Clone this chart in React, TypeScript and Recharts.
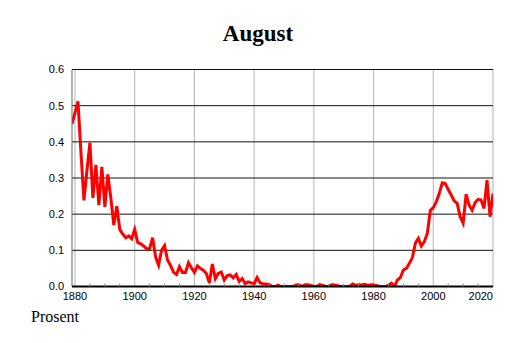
import { LineChart, Line, XAxis, YAxis, CartesianGrid } from "recharts";

// share per August, one value per year from 1879 to 2020
const firstYear = 1879;
const values1879to1899 = [
  0.45, 0.48, 0.512, 0.37, 0.238, 0.32, 0.398, 0.245, 0.336, 0.225, 0.331,
  0.22, 0.31, 0.245, 0.17, 0.222, 0.158, 0.145, 0.135, 0.14, 0.132,
];
const values1900to1929 = [
  0.158, 0.122, 0.118, 0.112, 0.104, 0.105, 0.135, 0.082, 0.059, 0.1,
  0.113, 0.073, 0.058, 0.04, 0.033, 0.055, 0.039, 0.039, 0.066, 0.052,
  0.039, 0.057, 0.05, 0.045, 0.036, 0.01, 0.062, 0.022, 0.036, 0.04,
];
const values1930to1959 = [
  0.018, 0.03, 0.032, 0.024, 0.033, 0.014, 0.022, 0.008, 0.013, 0.01,
  0.007, 0.025, 0.01, 0.007, 0.007, 0.006, 0, 0, 0.004, 0,
  0, 0, 0, 0, 0.004, 0.005, 0, 0.005, 0.005, 0.003,
];
const values1960to1989 = [
  0, 0, 0.005, 0.003, 0, 0, 0.005, 0.004, 0.002, 0,
  0, 0, 0, 0.007, 0.003, 0.005, 0.004, 0.006, 0.003, 0.005,
  0.004, 0.003, 0, 0, 0, 0.004, 0.009, 0, 0.018, 0.025,
];
const values1990to2020 = [
  0.046, 0.05, 0.064, 0.08, 0.12, 0.133, 0.112, 0.124, 0.147, 0.21,
  0.218, 0.234, 0.257, 0.287, 0.285, 0.268, 0.253, 0.237, 0.23, 0.193,
  0.175, 0.255, 0.225, 0.211, 0.232, 0.241, 0.239, 0.216, 0.294, 0.193,
  0.257,
];

const yearTicks = [
  1880, 1885, 1890, 1895, 1900, 1905, 1910, 1915, 1920, 1925, 1930, 1935,
  1940, 1945, 1950, 1955, 1960, 1965, 1970, 1975, 1980, 1985, 1990, 1995,
  2000, 2005, 2010, 2015, 2020,
];
const labelYears = [1880, 1900, 1920, 1940, 1960, 1980, 2000, 2020];
const shareTicks = [0, 0.1, 0.2, 0.3, 0.4, 0.5, 0.6];

const shares = [
  ...values1879to1899,
  ...values1900to1929,
  ...values1930to1959,
  ...values1960to1989,
  ...values1990to2020,
];
const data = shares.map((share, i) => ({ year: firstYear + i, share }));

const sans = "'Liberation Sans', Arial, sans-serif";
const serif = "'Liberation Serif', 'Times New Roman', serif";

function YearTick(props: any) {
  const { x, y, payload } = props;
  const year = payload.value;
  const axisY = y - 6;
  if (!labelYears.includes(year)) {
    return <line x1={x} x2={x} y1={axisY} y2={axisY - 3} stroke="#888" />;
  }
  return (
    <text
      x={x}
      y={y}
      dy="0.71em"
      textAnchor={year === 2020 ? "end" : "middle"}
      fontSize={11}
      fontFamily={sans}
      fill="#000"
    >
      {year}
    </text>
  );
}

export default function App() {
  return (
    <div
      style={{
        position: "absolute",
        left: 0,
        top: 0,
        width: 514,
        height: 343,
        background: "#fff",
      }}
    >
      <div
        style={{
          position: "absolute",
          left: 0,
          top: 22,
          width: 516,
          textAlign: "center",
          fontFamily: serif,
          fontWeight: "bold",
          fontSize: 23,
          lineHeight: "23px",
        }}
      >
        August
      </div>
      <LineChart
        width={514}
        height={343}
        data={data}
        margin={{ top: 69.5, right: 21, bottom: 36.5, left: 0 }}
      >
        <CartesianGrid horizontal={false} stroke="#b4b4b4" verticalValues={labelYears} />
        <CartesianGrid vertical={false} stroke="#111" />
        <YAxis
          type="number"
          domain={[0, 0.6]}
          ticks={shareTicks}
          allowDataOverflow
          width={72}
          tickSize={0}
          tickMargin={8}
          tickLine={false}
          axisLine={{ stroke: "#666" }}
          tick={{ fontSize: 11, fontFamily: sans, fill: "#000" }}
          tickFormatter={(v: number) => v.toFixed(1)}
        />
        <Line
          type="linear"
          dataKey="share"
          stroke="#ff0000"
          strokeWidth={3}
          dot={false}
          isAnimationActive={false}
        />
        <XAxis
          type="number"
          dataKey="year"
          domain={[1879, 2020]}
          allowDataOverflow
          ticks={yearTicks}
          interval={0}
          height={20}
          tickSize={0}
          tickMargin={6}
          tickLine={false}
          axisLine={{ stroke: "#000", strokeWidth: 2 }}
          tick={(p: any) => <YearTick {...p} />}
        />
      </LineChart>
      <div
        style={{
          position: "absolute",
          left: 31,
          top: 309,
          fontFamily: serif,
          fontSize: 16,
          lineHeight: "16px",
        }}
      >
        Prosent
      </div>
    </div>
  );
}
